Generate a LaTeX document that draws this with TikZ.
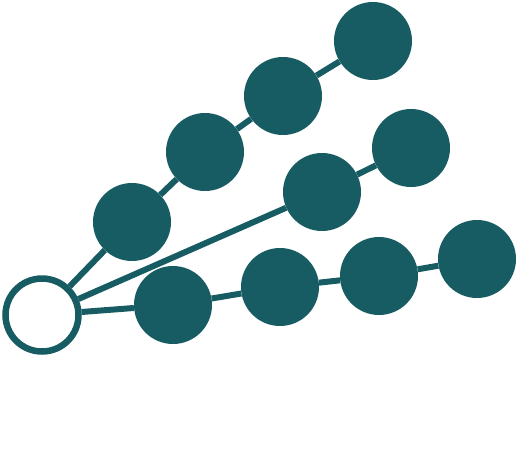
\documentclass[tikz,border=0pt]{standalone}
\usepackage{tikz}
\definecolor{teal1}{HTML}{185C63}
\tikzset{
dot/.style= {circle, fill=teal1, inner sep=0pt, minimum size=78pt},
root/.style= {circle, draw=teal1, fill=white, line width=6.5pt, inner sep=0pt, minimum size=73pt},
link/.style= {draw=teal1, line width=6pt}
}
\begin{document}
\begin{tikzpicture}[x=1pt, y=-1pt]
\useasboundingbox (0,0) rectangle (519,453);

% upper branch
\node[dot] (a1) at (132,222) {};
\node[dot] (a2) at (205,152) {};
\node[dot] (a3) at (283,96) {};
\node[dot] (a4) at (373,41) {};

% middle branch
\node[dot] (b1) at (322,192) {};
\node[dot] (b2) at (411,148) {};

% lower branch
\node[dot] (c1) at (173,305) {};
\node[dot] (c2) at (280,287) {};
\node[dot] (c3) at (379,276) {};
\node[dot] (c4) at (477,259) {};

\node[root] (r) at (42,315) {};

\foreach \x/\y in {r/a1,a1/a2,a2/a3,a3/a4,r/b1,b1/b2,r/c1,c1/c2,c2/c3,c3/c4}
  \draw[link] (\x) -- (\y);
\end{tikzpicture}
\end{document}
